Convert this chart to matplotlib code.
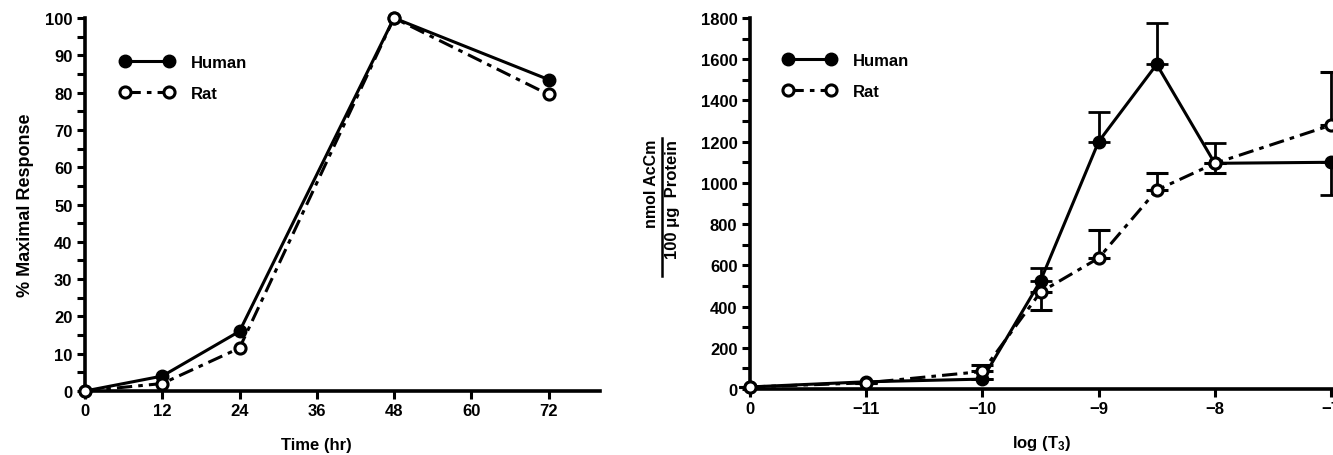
import matplotlib
matplotlib.use("Agg")
import matplotlib.pyplot as plt
from matplotlib.lines import Line2D
import numpy as np

plt.rcParams['font.family'] = ['Liberation Sans', 'DejaVu Sans']
plt.rcParams['font.weight'] = 'bold'
plt.rcParams['mathtext.fontset'] = 'custom'
plt.rcParams['mathtext.rm'] = 'Liberation Sans:bold'
plt.rcParams['mathtext.it'] = 'Liberation Sans:bold'
plt.rcParams['mathtext.default'] = 'rm'

# ---- Left panel data ----
time_hr = [0, 12, 24, 48, 72]
human_time = [0, 4, 16, 100, 83.5]
rat_time = [0, 2, 11.5, 100, 79.5]
time_ticks = [0, 12, 24, 36, 48, 60, 72]

# ---- Right panel data ----
log_t3 = [-12, -11, -10, -9.5, -9, -8.5, -8, -7]   # -12 plotted as control "0"
log_ticks = [-12, -11, -10, -9, -8, -7]
log_ticklabels = ['0', '\u221211', '\u221210', '\u22129', '\u22128', '\u22127']
human_dose = [10, 35, 48, 525, 1200, 1575, 1095, 1100]
human_err_lo = [0, 0, 0, 0, 0, 0, 0, 160]
human_err_hi = [0, 0, 0, 60, 145, 200, 100, 0]
rat_dose = [10, 30, 85, 470, 635, 965, 1095, 1280]
rat_err_lo = [0, 0, 0, 85, 0, 0, 45, 0]
rat_err_hi = [0, 0, 30, 0, 135, 85, 0, 260]

W, H = 1333, 456
fig = plt.figure(figsize=(W/100, H/100), dpi=100)

DASHDOT = (0, (5, 2, 1.5, 2))
LW = 2.2
FS = 12

def style_axes(ax):
    for s in ['top', 'right']:
        ax.spines[s].set_visible(False)
    for s in ['left', 'bottom']:
        ax.spines[s].set_linewidth(2.6)
    ax.tick_params(axis='both', which='both', direction='out', width=2.2,
                   length=6, labelsize=FS, pad=3)
    for lbl in ax.get_xticklabels() + ax.get_yticklabels():
        lbl.set_fontweight('bold')

def legend_handles():
    return [Line2D([], [], color='black', lw=LW, marker='o', ms=9, mfc='black'),
            Line2D([], [], color='black', lw=LW, ls=DASHDOT, marker='o', ms=8,
                   mfc='white', mew=2.2)]

# Left axes
ax1 = fig.add_axes([85/W, (H-392)/H, 515/W, 373/H])
ax1.plot(time_hr, human_time, color='black', lw=LW, marker='o', ms=9,
         mfc='black', mec='black', clip_on=False, zorder=3)
ax1.plot(time_hr, rat_time, color='black', lw=LW, ls=DASHDOT, marker='o', ms=8,
         mfc='white', mec='black', mew=2.2, clip_on=False, zorder=4)
ax1.set_xlim(0, 80)
ax1.set_ylim(0, 100)
ax1.set_xticks(time_ticks)
ax1.set_yticks(np.arange(0, 101, 10))
ax1.set_yticks(np.arange(5, 100, 10), minor=True)
style_axes(ax1)
ax1.set_xlabel('Time (hr)', fontsize=FS, fontweight='bold')
ax1.xaxis.set_label_coords(36/80, -0.122)
ax1.set_ylabel('% Maximal Response', fontsize=13, fontweight='bold', labelpad=8)
ax1.legend(legend_handles(), ['Human', 'Rat'], loc='upper left',
           bbox_to_anchor=(0.038, 0.941), frameon=False, numpoints=2,
           handlelength=3.26, handletextpad=1.0, labelspacing=0.93,
           prop={'weight': 'bold', 'size': FS})

# Right axes
ax2 = fig.add_axes([750/W, (H-390)/H, 583/W, 371/H])
eh = ax2.errorbar(log_t3, human_dose, yerr=[human_err_lo, human_err_hi], color='black',
                  lw=LW, marker='o', ms=9, mfc='black', mec='black', capsize=8,
                  capthick=2, elinewidth=2, clip_on=False, zorder=3)
er = ax2.errorbar(log_t3, rat_dose, yerr=[rat_err_lo, rat_err_hi], color='black',
                  lw=LW, ls=DASHDOT, marker='o', ms=8, mfc='white', mec='black',
                  mew=2.2, capsize=8, capthick=2, elinewidth=2, clip_on=False,
                  zorder=4)
for eb in (eh, er):
    for c in list(eb[1]) + list(eb[2]):
        c.set_clip_on(False)
ax2.set_xlim(-12, -6.983)
ax2.set_ylim(0, 1800)
ax2.set_xticks(log_ticks)
ax2.set_xticklabels(log_ticklabels)
ax2.set_yticks(np.arange(0, 1801, 200))
ax2.set_yticks(np.arange(100, 1800, 200), minor=True)
style_axes(ax2)
ax2.set_xlabel('log (T$_3$)', fontsize=FS, fontweight='bold')
ax2.xaxis.set_label_coords(0.5, -0.118)
ax2.legend(legend_handles(), ['Human', 'Rat'], loc='upper left',
           bbox_to_anchor=(0.031, 0.946), frameon=False, numpoints=2,
           handlelength=3.2, handletextpad=1.0, labelspacing=0.93,
           prop={'weight': 'bold', 'size': FS})

# Fraction-style y label for right panel
fig.text(652/W, 1 - 140/H, 'nmol AcCm', rotation=90, ha='center', va='top',
         fontsize=11.5, fontweight='bold')
fig.text(673/W, 1 - 140/H, '100 \u03bcg  Protein', rotation=90, ha='center', va='top',
         fontsize=12, fontweight='bold')
fig.add_artist(Line2D([662/W, 662/W], [1 - 139/H, 1 - 277/H], color='black',
                      lw=1.8, transform=fig.transFigure))

fig.savefig('out.png', dpi=100)
